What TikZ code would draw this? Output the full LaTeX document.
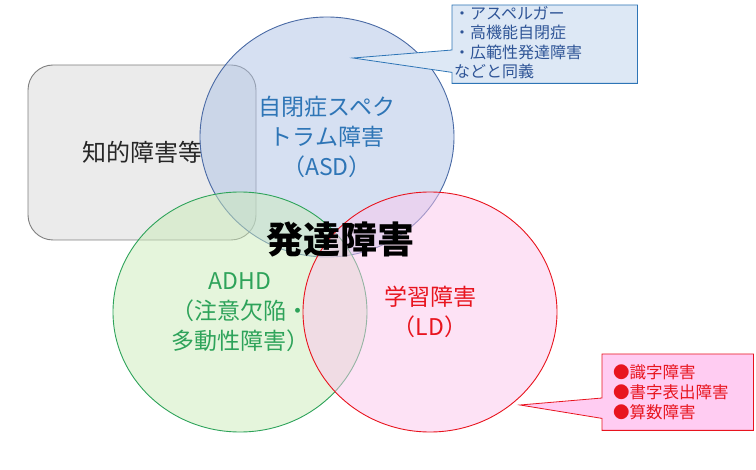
\documentclass[tikz,border=0pt]{standalone}
\usepackage{fontspec}
\setmainfont{Noto Sans CJK JP}
\usetikzlibrary{shapes.geometric}
\definecolor{asdline}{HTML}{4A6AA5}
\definecolor{asdfill}{HTML}{ADC2E6}
\definecolor{asdtext}{HTML}{2E75B6}
\definecolor{adhdline}{HTML}{2EA35A}
\definecolor{adhdfill}{HTML}{CBEBB9}
\definecolor{adhdtext}{HTML}{2EA35A}
\definecolor{ldline}{HTML}{E8141E}
\definecolor{ldfill}{HTML}{FBC5EC}
\definecolor{ldtext}{HTML}{E8141E}
\definecolor{idline}{HTML}{7F7F7F}
\definecolor{idfill}{HTML}{EBEBEB}
\definecolor{notebl}{HTML}{DDE8F5}
\definecolor{noteblline}{HTML}{2E75B6}
\definecolor{noteblt}{HTML}{2F5597}
\definecolor{notered}{HTML}{FFCCF2}
\tikzset{
  venn/.style={ellipse, minimum width=254pt, minimum height=240pt, inner sep=0pt,
    fill opacity=0.5, text opacity=1, draw opacity=1, align=center, line width=0.9pt,
    font=\fontsize{23}{30}\selectfont},
  notebox/.style={rectangle, inner sep=0pt, anchor=north west}
}
\begin{document}
\begin{tikzpicture}[x=1pt,y=-1pt]
\useasboundingbox (0,0) rectangle (756,470);
\node[draw=idline, fill=idfill, line width=0.9pt, rounded corners=25pt, minimum width=228pt,
  minimum height=175pt, font=\fontsize{24}{30}\selectfont, text=black!85] (idbox) at (142,152.5) {知的障害等};
\node[venn, draw=asdline, fill=asdfill, text=asdtext] (asd) at (327,137) {自閉症スペク\\トラム障害\\（ASD）};
\node[venn, draw=adhdline, fill=adhdfill, text=adhdtext] (adhd) at (240,312) {ADHD\\（注意欠陥・\\多動性障害）};
\node[venn, draw=ldline, fill=ldfill, text=ldtext] (ld) at (430,312) {学習障害\\（LD）};
\node[font=\fontsize{37}{40}\selectfont\bfseries] (title) at (340,240) {発達障害};
\node[notebox, minimum width=185pt, minimum height=78pt] (asdnote) at (452,5) {};
\coordinate (asdtip) at (353,58);
\draw[draw=noteblline, fill=notebl, line width=0.8pt] (asdnote.north west) -- (asdnote.north east)
  -- (asdnote.south east) -- (asdnote.south west) -- ([yshift=11pt]asdnote.south west)
  -- (asdtip) -- ([yshift=-45pt]asdnote.north west) -- cycle;
\node[notebox, inner sep=1pt, xshift=1pt, align=left, text=noteblt,
  font=\fontsize{16}{19.5}\selectfont] (asdlist) at (asdnote.north west)
  {・アスペルガー\\・高機能自閉症\\・広範性発達障害\\などと同義};
\node[notebox, minimum width=151pt, minimum height=76pt] (ldnote) at (602,354) {};
\coordinate (ldtip) at (520,405);
\draw[draw=ldline, fill=notered, line width=0.8pt] (ldnote.north west) -- (ldnote.north east)
  -- (ldnote.south east) -- (ldnote.south west) -- ([yshift=12pt]ldnote.south west)
  -- (ldtip) -- ([yshift=-44pt]ldnote.north west) -- cycle;
\node[anchor=west, inner sep=0pt, xshift=11pt, align=left, text=ldtext,
  font=\fontsize{16.5}{20}\selectfont] (ldlist) at (ldnote.west)
  {●識字障害\\●書字表出障害\\●算数障害};
\end{tikzpicture}
\end{document}
